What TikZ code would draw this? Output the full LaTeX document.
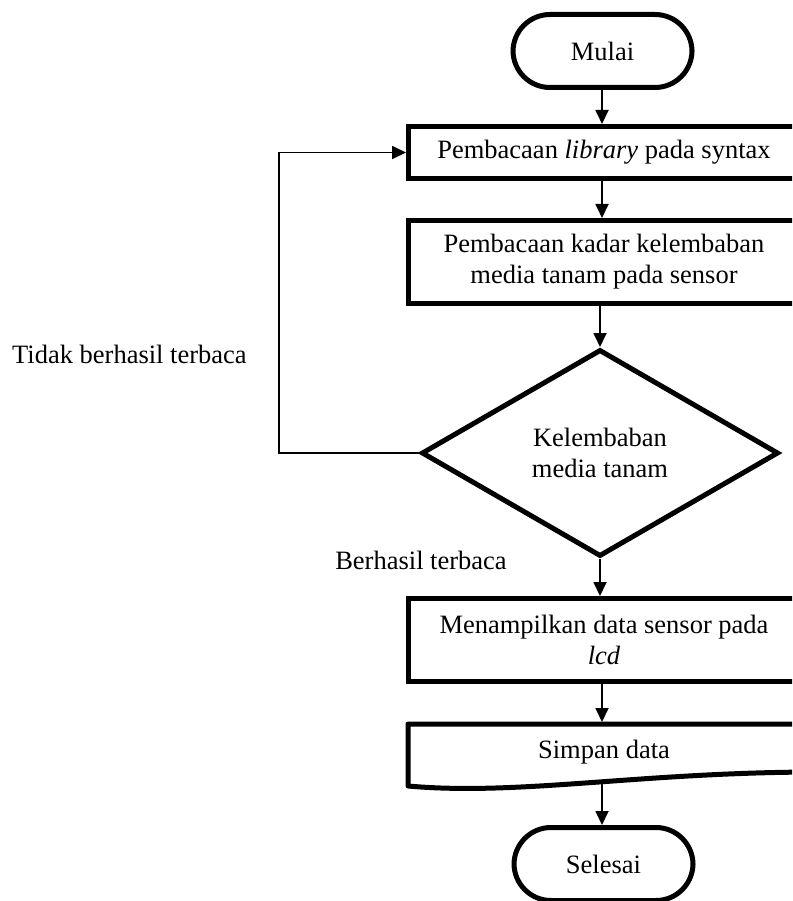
\documentclass[tikz,border=0pt]{standalone}
\usepackage{fontspec}
\setmainfont{Liberation Serif}
\usetikzlibrary{shapes.geometric,arrows.meta}
\begin{document}
\begin{tikzpicture}[x=1pt,y=-1pt,
  every node/.style={font=\fontsize{26.5}{31}\selectfont},
  box/.style={draw,line width=5pt,minimum width=391pt,inner sep=0pt,align=center},
  term/.style={draw,line width=5pt,rounded corners=37pt,minimum width=179pt,minimum height=73pt,inner sep=0pt},
  dec/.style={draw,diamond,line width=5pt,minimum width=357pt,minimum height=207pt,inner sep=0pt,align=center},
  conn/.style={line width=1.8pt,-{Triangle[length=14pt,width=13pt]}},
  lbl/.style={inner sep=0pt}]
\useasboundingbox (0,0) rectangle (792,901);
\clip (0,0) rectangle (792,901);
\node[term] (start) at (602.5,51) {Mulai};
\node[box,minimum height=52pt] (b1) at (604,152.5) {Pembacaan \textit{library} pada syntax};
\node[box,minimum height=83pt] (b2) at (604,262) {Pembacaan kadar kelembaban\\media tanam pada sensor};
\node[dec] (dia) at (600,453) {Kelembaban\\media tanam};
\node[box,minimum height=83pt] (b3) at (604,640) {Menampilkan data sensor pada\\\textit{lcd}};
\node[lbl] (save) at (604,752) {Simpan data};
\node[term] (end) at (603.5,864) {Selesai};
\node[lbl,anchor=west] (no) at (12,354) {Tidak berhasil terbaca};
\node[lbl] (yes) at (421,560) {Berhasil terbaca};
% document shape
\draw[line width=5pt,line join=round] (820,724) -- (408,724) -- (408,786)
  .. controls (520,796) and (640,772) .. (820,772);
\coordinate (doct) at (602,722);
\coordinate (docb) at (602,782);
\coordinate (lp) at (279,453);
% connectors
\draw[conn] (start.south -| 602,0) -- (b1.north -| 602,0);
\draw[conn] (b1.south -| 602,0) -- (b2.north -| 602,0);
\draw[conn] (b2.south -| 600,0) -- (dia.north);
\draw[conn] (dia.south) -- (b3.north -| 600,0);
\draw[conn] (b3.south -| 602,0) -- (doct);
\draw[conn] (docb) -- (end.north -| 602,0);
\draw[conn] (dia.west) -- (lp) |- (b1.west);
\end{tikzpicture}
\end{document}
